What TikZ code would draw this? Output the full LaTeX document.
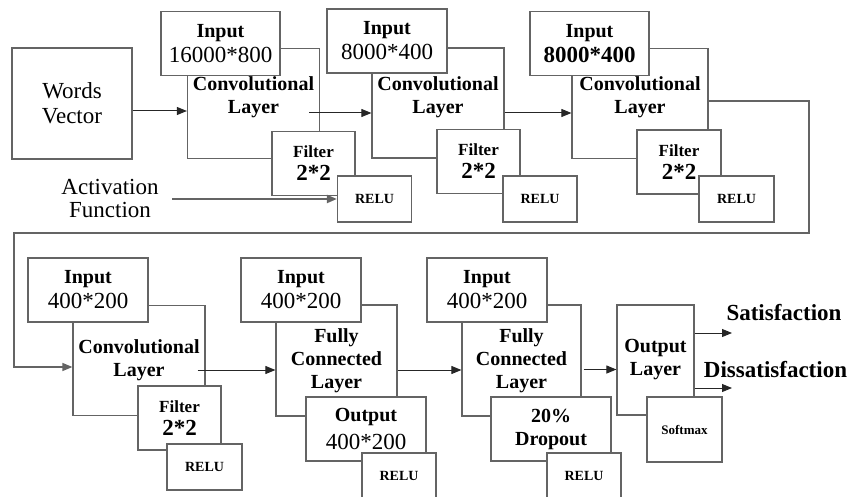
\documentclass[tikz,border=0pt]{standalone}
\usepackage{fontspec}
\setmainfont{LiberationSerif}[Extension=.ttf, UprightFont=*-Regular, BoldFont=*-Bold, ItalicFont=*-Italic, BoldItalicFont=*-BoldItalic]
\usetikzlibrary{arrows.meta, calc}
\definecolor{edgegray}{RGB}{100,100,100}
\newcommand{\insize}[1]{{\fontsize{23}{25}\selectfont\mdseries #1}}

\begin{document}
\begin{tikzpicture}[x=1pt, y=-1pt,
  box/.style = {shape=rectangle, draw=edgegray, line width=1.2pt, fill=white, inner sep=0pt, align=center},
  inbox/.style = {box, minimum width=120pt, minimum height=64pt, font=\fontsize{20}{25}\selectfont\bfseries},
  layer/.style = {box, minimum width=132pt, minimum height=110pt, font=\fontsize{20}{23}\selectfont\bfseries},
  layertext/.style = {inner sep=0pt, align=center, font=\fontsize{20}{23}\selectfont\bfseries},
  filt/.style = {box, minimum width=83pt, minimum height=64pt, font=\fontsize{17}{23}\selectfont\bfseries},
  relu/.style = {box, minimum width=74pt, minimum height=46pt, font=\fontsize{14}{16}\selectfont\bfseries},
  arr/.style = {-{Triangle[length=10pt,width=8pt]}, line width=1pt, draw=black!85}]

  \useasboundingbox (0,0) rectangle (850,497);

  % first row
  \node[box, minimum width=120pt, minimum height=111pt, font=\fontsize{23}{25}\selectfont] (wv) at (72,103.5) {Words\\Vector};
  \node[layer] (cv1) at (253.5,103.5) {};
  \node[layer] (cv2) at (438,103) {};
  \node[layer, minimum width=136pt] (cv3) at (640,103.5) {};
  \node[layertext] (cv1t) at ([yshift=6pt]cv1.center) {Convolutional\\Layer};
  \node[layertext] (cv2t) at ([yshift=6pt]cv2.center) {Convolutional\\Layer};
  \node[layertext] (cv3t) at ([yshift=6pt]cv3.center) {Convolutional\\Layer};

  \node[inbox, minimum width=119pt] (in1) at (220.5,43.5) {Input\\\insize{16000*800}};
  \node[inbox] (in2) at (387,41) {Input\\\insize{8000*400}};
  \node[inbox, minimum width=119pt] (in3) at (589.5,43.5) {Input\\{\fontsize{23}{25}\selectfont 8000*400}};

  \node[filt] (fl1) at (313.5,163.5) {Filter\\{\fontsize{23}{25}\selectfont 2*2}};
  \node[filt] (fl2) at (478.5,161.5) {Filter\\{\fontsize{23}{25}\selectfont 2*2}};
  \node[filt, minimum width=84pt] (fl3) at (679,162) {Filter\\{\fontsize{23}{25}\selectfont 2*2}};

  \node[relu] (re1) at (374.5,199) {RELU};
  \node[relu] (re2) at (540,199) {RELU};
  \node[relu, minimum width=75pt] (re3) at (736.5,199) {RELU};

  \node[inner sep=0pt, align=center, font=\fontsize{23}{23}\selectfont] (act) at (110,198) {Activation\\Function};
  \coordinate (actstart) at (172,199);

  % second row
  \node[layer] (cv4) at (139,360.5) {Convolutional\\Layer};
  \node[layer, minimum width=121pt, minimum height=111pt] (fc1) at (336.5,360.5) {Fully\\Connected\\Layer};
  \node[layer, minimum width=119pt, minimum height=111pt] (fc2) at (521.5,360.5) {Fully\\Connected\\Layer};
  \node[layer, minimum width=77pt] (ol) at (655.5,360) {Output\\Layer};

  \node[inbox] (in4) at (88,290) {Input\\\insize{400*200}};
  \node[inbox] (in5) at (301,290) {Input\\\insize{400*200}};
  \node[inbox] (in6) at (487,290) {Input\\\insize{400*200}};

  \node[filt] (fl4) at (179.5,418) {Filter\\{\fontsize{23}{25}\selectfont 2*2}};
  \node[inbox, font=\fontsize{20}{28}\selectfont\bfseries] (op5) at (366,429) {Output\\\insize{400*200}};
  \node[inbox, font=\fontsize{20}{23}\selectfont\bfseries] (dr6) at (551,429) {20\%\\Dropout};
  \node[relu, minimum width=75pt, minimum height=65pt, font=\fontsize{13}{15}\selectfont\bfseries] (sm) at (684.5,429.5) {Softmax};

  \node[relu, minimum width=75pt] (re4) at (204.5,467) {RELU};
  \node[relu] (re5) at (399,476) {RELU};
  \node[relu] (re6) at (584,476) {RELU};

  \node[inner sep=0pt, font=\fontsize{23}{25}\selectfont\bfseries] (sat) at (784,313) {Satisfaction};
  \node[inner sep=0pt, font=\fontsize{23}{25}\selectfont\bfseries] (dis) at (775.5,370) {Dissatisfaction};
  \coordinate (satend) at (732,333);
  \coordinate (disend) at (732,388);

  \coordinate (turnA) at (809,233);
  \coordinate (turnB) at (14,367);

  % connectors
  \draw[arr] ([yshift=-7.5pt]wv.east) -- ([yshift=-7.5pt]wv.east -| cv1.west);
  \draw[arr] ([xshift=-11pt,yshift=-9.5pt]cv1.east) -- ([yshift=-9.5pt]cv1.east -| cv2.west);
  \draw[arr] ([yshift=-10pt]cv2.east) -- ([yshift=-10pt]cv2.east -| cv3.west);
  \draw[arr, draw=edgegray, line width=1.4pt] ([yshift=2.5pt]cv3.east) -| (turnA) -| (turnB) -- (turnB -| cv4.west);
  \draw[arr, draw=edgegray, line width=2pt] (actstart) -- (actstart -| re1.west);
  \draw[arr] ([xshift=-8pt,yshift=-9.5pt]cv4.east) -- ([yshift=-9.5pt]cv4.east -| fc1.west);
  \draw[arr] ([yshift=-9.5pt]fc1.east) -- ([yshift=-9.5pt]fc1.east -| fc2.west);
  \draw[arr] ([xshift=2pt,yshift=-9pt]fc2.east) -- ([yshift=-9pt]fc2.east -| ol.west);
  \draw[arr] (ol.east |- satend) -- (satend);
  \draw[arr] (ol.east |- disend) -- (disend);
\end{tikzpicture}
\end{document}
